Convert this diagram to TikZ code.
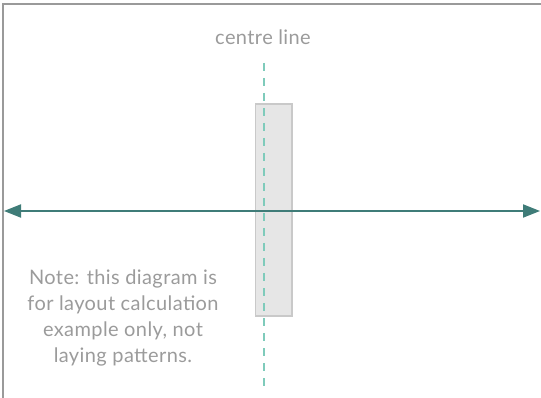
\documentclass[tikz,border=0pt]{standalone}
\usepackage{fontspec}
\setmainfont{Lato}[LetterSpace=2]
\usetikzlibrary{arrows.meta}
\definecolor{framegray}{HTML}{9A9A9A}
\definecolor{txtgray}{HTML}{9B9B9B}
\definecolor{cl}{HTML}{7FCBBB}
\definecolor{arr}{HTML}{3F7C78}
\definecolor{boxfill}{HTML}{E6E6E6}
\definecolor{boxdraw}{HTML}{C9C9C9}
\tikzset{
  lbl/.style={text=txtgray, font=\fontsize{20}{26}\selectfont, inner sep=0pt},
  clline/.style={draw=cl, line width=1.6pt, dash pattern=on 8pt off 7pt},
  tile/.style={draw=boxdraw, fill=boxfill, line width=1.5pt},
  dimarrow/.style={draw=arr, line width=2pt, {Triangle[length=17pt,width=13pt]}-{Triangle[length=17pt,width=13pt]}}
}
\begin{document}
\begin{tikzpicture}[x=1pt,y=-1pt]
\useasboundingbox (0,0) rectangle (541,398);
\draw[framegray, line width=2.5pt] (3,398) -- (3,4) -- (541,4);
\node[lbl] (title) at (263,37) {centre line};
\draw[tile] (255.5,104) rectangle (292,316);
\coordinate (ctop) at (264,63);
\coordinate (cbot) at (264,388);
\draw[clline] (ctop) -- (cbot);
\coordinate (aL) at (4,211);
\coordinate (aR) at (540,211);
\draw[dimarrow] (aL) -- (aR);
\node[lbl, align=center] (note) at (123,318) {Note: this diagram is\\for layout calculation\\example only, not\\laying patterns.};
\end{tikzpicture}
\end{document}
